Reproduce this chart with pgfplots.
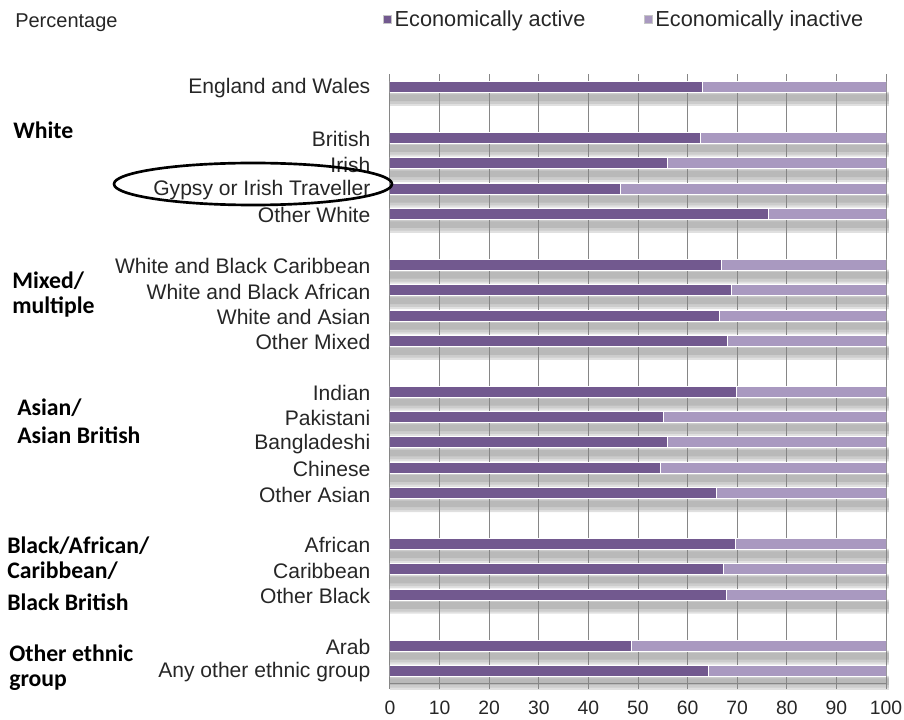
\documentclass[border=0pt]{standalone}
\usepackage{pgfplots}
\pgfplotsset{compat=1.18}
\usepackage{pgfplotstable}
\usepackage{fontspec}
\setmainfont{Liberation Sans}
\newfontfamily\calibri{Carlito}
\definecolor{act}{RGB}{114,89,143}
\definecolor{inact}{RGB}{169,153,192}
\definecolor{gridc}{RGB}{134,134,134}

\pgfplotstableread{
y active inactive
23 63.1 36.9
21 62.6 37.4
20 55.9 44.1
19 46.5 53.5
18 76.4 23.6
16 66.8 33.2
15 68.8 31.2
14 66.5 33.5
13 68.1 31.9
11 69.8 30.2
10 55.2 44.8
9 55.9 44.1
8 54.6 45.4
7 65.8 34.2
5 69.7 30.3
4 67.2 32.8
3 67.8 32.2
1 48.7 51.3
0 64.2 35.8
}\datatable

\begin{document}
\begin{tikzpicture}[x=1pt,y=1pt]
\useasboundingbox (0,0) rectangle (678,539.25);
% shadows under the bars
\begin{axis}[at={(292.5pt,26.5pt)}, anchor=south west, scale only axis,
  width=372pt, height=457pt, xmin=0, xmax=100, ymin=-0.5, ymax=23.5,
  hide axis, clip=false]
\addplot[xbar, bar shift=0pt, bar width=10.5pt, draw=none, fill=gray!24]
  table[x expr=100.6, y expr=\thisrow{y}-0.47]{\datatable};
\addplot[xbar, bar shift=0pt, bar width=8pt, draw=none, fill=gray!40]
  table[x expr=100.6, y expr=\thisrow{y}-0.45]{\datatable};
\addplot[xbar, bar shift=0pt, bar width=5pt, draw=none, fill=gray!55]
  table[x expr=100.6, y expr=\thisrow{y}-0.42]{\datatable};
\end{axis}
% main chart
\begin{axis}[at={(292.5pt,26.5pt)}, anchor=south west, scale only axis,
  width=372pt, height=457pt, xmin=0, xmax=100, ymin=-0.5, ymax=23.5,
  xbar stacked, bar width=8.25pt,
  axis x line*=bottom, axis y line*=left,
  axis line style={gridc, line width=0.75pt},
  xmajorgrids, grid style={gridc, line width=0.75pt},
  xtick={0,10,...,100},
  tick align=outside, major tick length=3.75pt,
  x tick style={gridc, line width=0.75pt},
  y tick style={draw=none},
  /pgf/number format/assume math mode=true,
  ytick={23,21,20,19,18,16,15,14,13,11,10,9,8,7,5,4,3,1,0},
  yticklabels={England and Wales,British,Irish,Gypsy or Irish Traveller,Other White,
    White and Black Caribbean,White and Black African,White and Asian,Other Mixed,
    Indian,Pakistani,Bangladeshi,Chinese,Other Asian,
    African,Caribbean,Other Black,Arab,Any other ethnic group},
  yticklabel style={font=\fontsize{15.8}{18}\selectfont, text=black!85, xshift=-7.5pt, yshift=-1pt},
  xticklabel style={font=\fontsize{14.5}{16}\selectfont, text=black!85, yshift=-5.5pt},
  legend style={at={(-0.014,1.0905)}, anchor=west, draw=none, fill=none,
    inner sep=0pt, font=\fontsize{16.3}{18}\selectfont, text=black!85,
    legend columns=2,
    /tikz/every even column/.append style={column sep=42pt}},
  legend cell align=left,
  legend image code/.code={\draw[#1, draw=white!55!gray, line width=0.5pt] (0pt,-3pt) rectangle (6pt,3pt);},
]
\addplot[fill=act, draw=white, line width=0.75pt] table[x=active, y=y]{\datatable};
\addplot[fill=inact, draw=white, line width=0.75pt] table[x=inactive, y=y]{\datatable};
\legend{Economically active, Economically inactive}
\end{axis}
% titles and group labels
\node[anchor=base west, inner sep=0pt, font=\fontsize{15}{17}\selectfont, text=black!85] at (11.25,518.25) {Percentage};
\begin{scope}[every node/.style={anchor=base west, inner sep=0pt, font=\calibri\bfseries\fontsize{17.8}{20}\selectfont}]
\node at (9.75,435) {White};
\node at (9,322.5) {Mixed/};
\node at (9,303.75) {multiple};
\node at (12.75,228) {Asian/};
\node at (12.75,207) {Asian British};
\node at (5.25,124.5) {Black/African/};
\node at (5.25,105.75) {Caribbean/};
\node at (5.25,81.75) {Black British};
\node at (6.75,43.5) {Other ethnic};
\node at (6.75,24.75) {group};
\end{scope}
\draw[line width=2pt, black] (189.75,401.25) ellipse [x radius=104.25, y radius=15.75];
\end{tikzpicture}
\end{document}
